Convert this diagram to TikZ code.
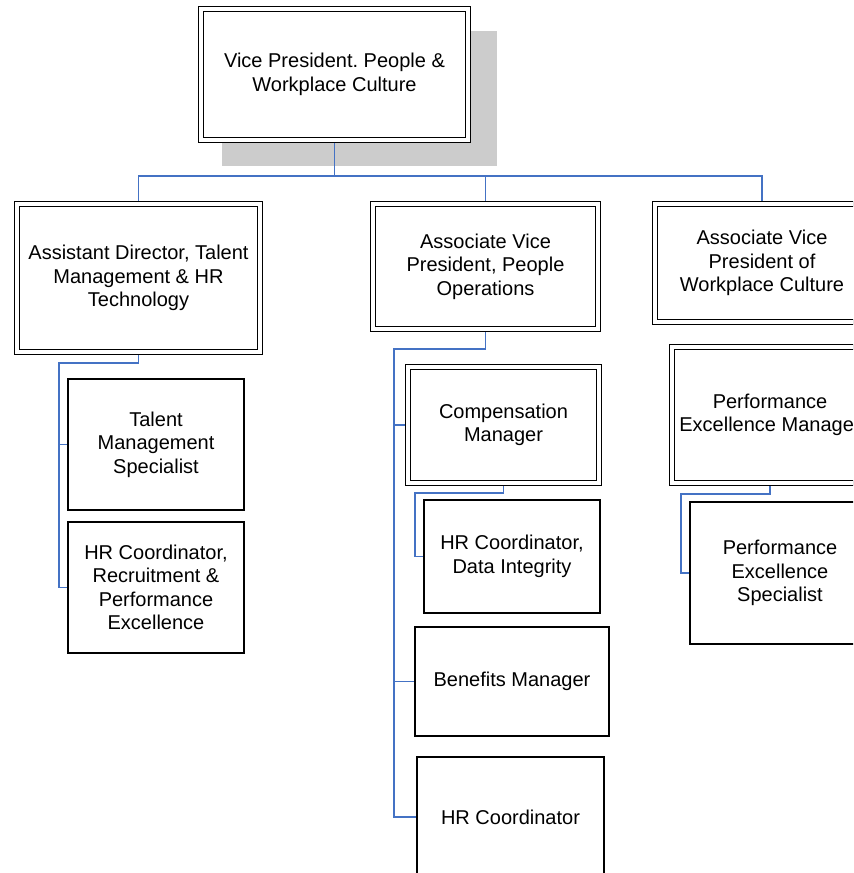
\documentclass[tikz,border=0pt]{standalone}
\usepackage{fontspec}
\setmainfont{Liberation Sans}
\usetikzlibrary{shadows}
\frenchspacing

\definecolor{linkblue}{RGB}{68,114,196}

\begin{document}
\begin{tikzpicture}[x=0.75pt, y=-0.75pt,
    post/.style={draw, fill=white, line width=0.9pt, double, double distance=2.4pt,
      outer sep=2.1pt, inner sep=0pt, align=center,
      font=\fontsize{15}{17.6}\selectfont},
    staff/.style={draw, fill=white, line width=1.1pt, inner sep=0pt, align=center,
      font=\fontsize{15}{17.6}\selectfont},
    link/.style={draw=linkblue, line width=1.1pt}]

    % Page frame (the chart is cut at the right and bottom)
    \useasboundingbox (0,0) rectangle (853,873);
    \clip (0,0) rectangle (853,873);

    % Top of the chart
    \node[post, minimum width=200.25pt, minimum height=98.25pt,
      drop shadow={shadow xshift=18.4pt, shadow yshift=-17.25pt,
        shadow scale=1.03, fill=black!20, opacity=1}]
      (vp) at (334.5,74.5) {Vice President. People \&\\Workplace Culture};

    % Second level
    \node[post, minimum width=182.25pt, minimum height=111pt] (ad) at (138.5,278)
      {Assistant Director, Talent\\Management \& HR\\Technology};
    \node[post, minimum width=168.75pt, minimum height=93.75pt] (avpo) at (485.5,266.5)
      {Associate Vice\\President, People\\Operations};
    \node[post, minimum width=160.5pt, minimum height=88.5pt] (avpw) at (762,263)
      {Associate Vice\\President of\\Workplace Culture};

    % Talent management branch
    \node[staff, minimum width=132pt, minimum height=98.25pt] (tms) at (156,444.5)
      {Talent\\Management\\Specialist};
    \node[staff, minimum width=132pt, minimum height=98.25pt] (hrcr) at (156,587.5)
      {HR Coordinator,\\Recruitment \&\\Performance\\Excellence};

    % People operations branch
    \node[post, minimum width=143.25pt, minimum height=87pt] (cm) at (503.5,425)
      {Compensation\\Manager};
    \node[staff, minimum width=132pt, minimum height=84.75pt] (hrcd) at (512,556.5)
      {HR Coordinator,\\Data Integrity};
    \node[staff, minimum width=145.5pt, minimum height=81.75pt] (bm) at (512,681.5)
      {Benefits Manager};
    \node[staff, minimum width=140.25pt, minimum height=90pt] (hrc) at (510.5,817)
      {HR Coordinator};

    % Workplace culture branch
    \node[post, minimum width=147pt, minimum height=102pt] (pem) at (770,415)
      {Performance\\Excellence Manager};
    \node[staff, minimum width=135pt, minimum height=106.5pt] (pes) at (780,573)
      {Performance\\Excellence\\Specialist};

    % Turning points of the connectors
    \coordinate (vpturn) at (334.5,176);
    \coordinate (adturn) at (59,363);
    \coordinate (avpoturn) at (394,349);
    \coordinate (cmturn) at (415,493);
    \coordinate (pemturn) at (681,494);

    % Connectors
    \draw[link] (vp.south) -- (vpturn) -| (ad.north);
    \draw[link] (vpturn) -| (avpo.north);
    \draw[link] (vpturn) -| (avpw.north);

    \draw[link] (ad.south) |- (adturn) |- (tms.west);
    \draw[link] (adturn) |- (hrcr.west);

    \draw[link] (avpo.south) |- (avpoturn) |- (cm.west);
    \draw[link] (avpoturn) |- (bm.west);
    \draw[link] (avpoturn) |- (hrc.west);
    \draw[link] (cm.south) |- (cmturn) |- (hrcd.west);

    \draw[link] (pem.south) |- (pemturn) |- (pes.west);
\end{tikzpicture}
\end{document}
